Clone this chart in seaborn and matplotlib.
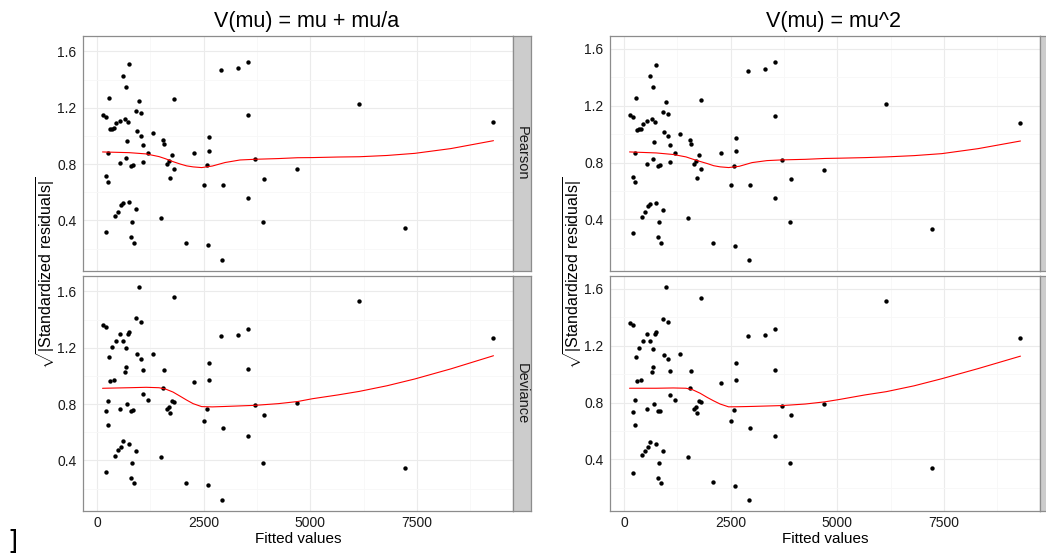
import matplotlib
matplotlib.use("Agg")
import matplotlib.pyplot as plt
import numpy as np
import pandas as pd
import seaborn as sns

# Fitted values (shared by every facet)
fitted = [125, 195, 203, 211, 256, 260, 281, 301, 336, 395,
          414, 438, 488, 523, 531, 559, 594, 602, 645, 684,
          686, 690, 711, 734, 750, 795, 799, 805, 828, 859,
          914, 920, 924, 969, 1016, 1023, 1068, 1072, 1188, 1313,
          1492, 1543, 1563, 1648, 1688, 1715, 1750, 1805, 1813, 2094,
          2281, 2516, 2578, 2594, 2613, 2617, 2898, 2930, 2953, 3297,
          3527, 3531, 3539, 3711, 3883, 3922, 4688, 6141, 7211, 9297]

# sqrt(|standardized residuals|), V(mu) = mu + mu/a
pearson_a = [1.147, 1.133, 0.315, 0.716, 0.876, 0.671, 1.270, 1.046, 1.051, 1.058,
             0.431, 1.091, 0.461, 0.806, 1.107, 0.511, 1.426, 0.527, 1.119, 0.843,
             1.348, 0.964, 1.098, 0.530, 1.508, 0.789, 0.280, 0.388, 0.791, 0.240,
             0.478, 1.176, 1.034, 1.249, 1.001, 1.162, 0.935, 0.817, 0.879, 1.020,
             0.419, 0.973, 0.942, 0.803, 0.824, 0.704, 0.867, 1.261, 0.768, 0.242,
             0.881, 0.652, 0.794, 0.226, 0.895, 0.989, 1.470, 0.120, 0.652, 1.480,
             1.145, 0.560, 1.527, 0.834, 0.391, 0.695, 0.765, 1.228, 0.344, 1.096]
deviance_a = [1.364, 1.350, 0.315, 0.749, 0.824, 0.648, 1.136, 0.964, 1.202, 0.973,
              0.435, 1.249, 0.471, 0.768, 1.296, 0.494, 1.249, 0.537, 1.027, 1.195,
              1.065, 0.798, 1.294, 0.516, 1.310, 0.751, 0.275, 0.381, 0.756, 0.237,
              0.468, 1.409, 1.152, 1.633, 1.119, 1.385, 1.039, 0.869, 0.831, 1.157,
              0.424, 0.912, 1.039, 0.768, 0.780, 0.740, 0.822, 1.558, 0.815, 0.242,
              0.954, 0.678, 0.763, 0.223, 1.093, 0.973, 1.286, 0.117, 0.629, 1.289,
              1.046, 0.575, 1.336, 0.791, 0.384, 0.725, 0.806, 1.532, 0.346, 1.270]

# sqrt(|standardized residuals|), V(mu) = mu^2
pearson_b = [1.137, 1.120, 0.302, 0.702, 0.865, 0.662, 1.256, 1.032, 1.034, 1.039,
             0.419, 1.074, 0.451, 0.791, 1.090, 0.496, 1.408, 0.512, 1.104, 0.828,
             1.329, 0.947, 1.083, 0.517, 1.485, 0.777, 0.274, 0.381, 0.781, 0.232,
             0.468, 1.158, 1.018, 1.230, 0.985, 1.144, 0.922, 0.802, 0.865, 1.004,
             0.407, 0.959, 0.929, 0.788, 0.809, 0.692, 0.851, 1.242, 0.756, 0.236,
             0.865, 0.641, 0.779, 0.215, 0.880, 0.973, 1.448, 0.112, 0.639, 1.460,
             1.125, 0.550, 1.506, 0.819, 0.379, 0.681, 0.751, 1.209, 0.335, 1.081]
deviance_b = [1.359, 1.343, 0.304, 0.737, 0.816, 0.641, 1.123, 0.952, 1.186, 0.961,
              0.428, 1.233, 0.461, 0.756, 1.282, 0.484, 1.233, 0.526, 1.013, 1.179,
              1.050, 0.788, 1.280, 0.508, 1.294, 0.739, 0.269, 0.374, 0.742, 0.232,
              0.461, 1.392, 1.137, 1.616, 1.104, 1.368, 1.025, 0.854, 0.816, 1.144,
              0.416, 0.901, 1.025, 0.753, 0.767, 0.730, 0.809, 1.539, 0.805, 0.239,
              0.940, 0.669, 0.749, 0.215, 1.076, 0.959, 1.268, 0.112, 0.618, 1.275,
              1.032, 0.566, 1.319, 0.779, 0.374, 0.716, 0.793, 1.513, 0.339, 1.254]

# Loess smooths evaluated on a common grid
smooth_x = [125, 750, 1150, 1450, 1600, 1780, 1950, 2100, 2250, 2450, 2700, 3000,
            3350, 3700, 4250, 4700, 5050, 5650, 6150, 6800, 7450, 8300, 9297]
smooth_pearson_a = [0.886, 0.881, 0.872, 0.853, 0.838, 0.817, 0.800, 0.787, 0.780, 0.775,
                    0.786, 0.811, 0.829, 0.834, 0.839, 0.845, 0.846, 0.850, 0.852, 0.861,
                    0.876, 0.910, 0.966]
smooth_deviance_a = [0.912, 0.916, 0.919, 0.916, 0.907, 0.885, 0.855, 0.828, 0.803, 0.782,
                     0.780, 0.783, 0.787, 0.791, 0.803, 0.818, 0.838, 0.865, 0.890, 0.930,
                     0.978, 1.050, 1.143]
smooth_pearson_b = [0.875, 0.868, 0.857, 0.840, 0.825, 0.808, 0.793, 0.778, 0.770, 0.765,
                    0.774, 0.800, 0.814, 0.819, 0.823, 0.829, 0.831, 0.835, 0.840, 0.849,
                    0.863, 0.898, 0.952]
smooth_deviance_b = [0.901, 0.901, 0.903, 0.901, 0.891, 0.866, 0.836, 0.812, 0.790, 0.770,
                     0.771, 0.773, 0.776, 0.779, 0.790, 0.805, 0.822, 0.854, 0.877, 0.918,
                     0.968, 1.039, 1.127]

titles = ["V(mu) = mu + mu/a", "V(mu) = mu^2"]
row_labels = ["Pearson", "Deviance"]
x_ticks = [0, 2500, 5000, 7500]
y_ticks = [0.4, 0.8, 1.2, 1.6]

sns.set_theme(style="white")
plt.rcParams["font.family"] = ["Liberation Sans", "DejaVu Sans"]
plt.rcParams["mathtext.fontset"] = "custom"
plt.rcParams["mathtext.rm"] = "Liberation Sans"
plt.rcParams["mathtext.it"] = "Liberation Sans:italic"
plt.rcParams["mathtext.bf"] = "Liberation Sans:bold"

W, H = 1046, 553
fig = plt.figure(figsize=(W / 100, H / 100), dpi=100)
fig.patch.set_facecolor("white")

GRID_MAJOR = "#EBEBEB"
GRID_MINOR = "#F7F7F7"
BORDER = "#8C8C8C"
STRIP = "#CCCCCC"


def px_axes(x0, y0, w, h):
    return fig.add_axes([x0 / W, 1 - (y0 + h) / H, w / W, h / H])


def expand(vals, frac=0.05):
    lo, hi = min(vals), max(vals)
    pad = (hi - lo) * frac
    return lo - pad, hi + pad


groups = [
    (83, titles[0], [pearson_a, deviance_a], [smooth_pearson_a, smooth_deviance_a]),
    (610, titles[1], [pearson_b, deviance_b], [smooth_pearson_b, smooth_deviance_b]),
]

panel_w, panel_h = 430, 235
strip_w = 18
rows_top = [36, 276]

xlim = expand(fitted)
x_minor = [1250, 3750, 6250, 8750]
y_minor = [0.2, 0.6, 1.0, 1.4]

for left, title, resid_sets, smooth_sets in groups:
    all_y = resid_sets[0] + resid_sets[1]
    ylim = expand(all_y)
    for r, (resid, smooth) in enumerate(zip(resid_sets, smooth_sets)):
        top = rows_top[r]
        ax = px_axes(left, top, panel_w, panel_h)
        df = pd.DataFrame({"fitted": fitted, "resid": resid})
        sm = pd.DataFrame({"fitted": smooth_x, "resid": smooth})
        sns.scatterplot(data=df, x="fitted", y="resid", ax=ax, color="black",
                        s=10, linewidth=0, zorder=3)
        sns.lineplot(data=sm, x="fitted", y="resid", ax=ax, color="#FF0000",
                     linewidth=0.8, zorder=4)
        ax.set_xlim(*xlim)
        ax.set_ylim(*ylim)
        ax.set_xticks(x_ticks)
        ax.set_xticks(x_minor, minor=True)
        ax.set_yticks(y_ticks)
        ax.set_yticks(y_minor, minor=True)
        ax.set_yticklabels([f"{v:.1f}" for v in y_ticks])
        ax.grid(True, which="major", color=GRID_MAJOR, linewidth=0.8, zorder=0)
        ax.grid(True, which="minor", color=GRID_MINOR, linewidth=0.6, zorder=0)
        ax.set_axisbelow(True)
        ax.set_xlabel("")
        ax.set_ylabel("")
        for sp in ax.spines.values():
            sp.set_color(BORDER)
            sp.set_linewidth(0.9)
        ax.tick_params(axis="both", which="minor", length=0)
        ax.tick_params(axis="y", which="major", length=3.2, width=0.8,
                       color="#4D4D4D", labelsize=10, labelcolor="#1A1A1A", pad=1.5)
        if r == 0:
            ax.tick_params(axis="x", which="major", length=0, labelbottom=False)
        else:
            ax.tick_params(axis="x", which="major", length=3.0, width=0.8,
                           color="#4D4D4D", labelsize=10, labelcolor="#1A1A1A", pad=0.5)
            ax.set_xticklabels([str(v) for v in x_ticks])

        sax = px_axes(left + panel_w, top, strip_w, panel_h)
        sax.set_facecolor(STRIP)
        sax.set_xticks([])
        sax.set_yticks([])
        for sp in sax.spines.values():
            sp.set_color(BORDER)
            sp.set_linewidth(0.9)
        sax.text(0.5, 0.5, row_labels[r], rotation=-90, ha="center", va="center",
                 fontsize=10.5, color="#1A1A1A", transform=sax.transAxes)

    cx = left + (panel_w + strip_w) / 2
    fig.text(cx / W, 1 - 22 / H, title, ha="center", va="center", fontsize=15.5,
             color="black")
    fig.text((left + panel_w / 2) / W, 1 - 539 / H, "Fitted values", ha="center",
             va="center", fontsize=11, color="black")
    fig.text((left - 37) / W, 1 - 273 / H,
             r"$\sqrt{|\mathrm{Standardized\ residuals}|}$",
             rotation=90, ha="center", va="center", fontsize=11.5, color="black")

fig.text(13 / W, 1 - 542 / H, "]", ha="center", va="center", fontsize=19,
         color="black", family="DejaVu Sans")

fig.savefig("out.png", dpi=100, facecolor="white")
